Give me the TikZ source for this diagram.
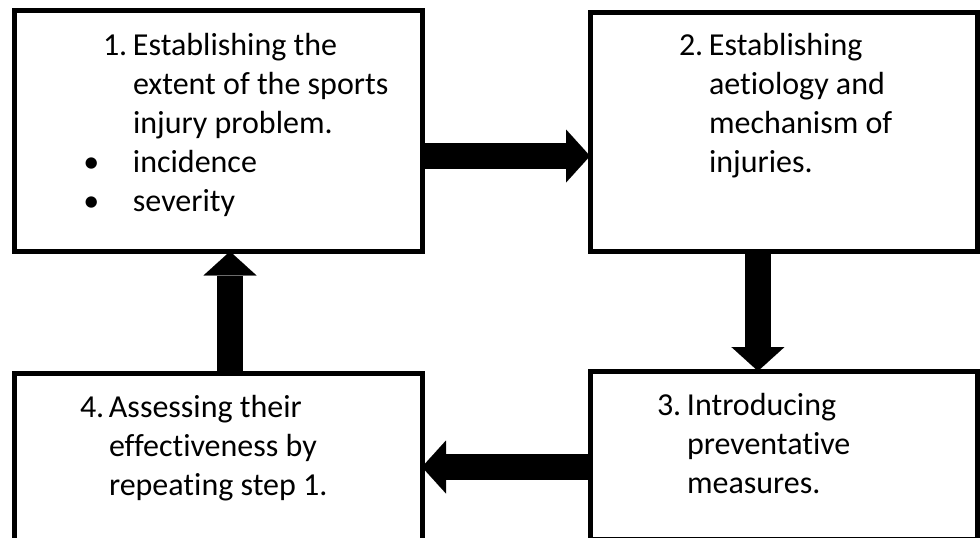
\documentclass[tikz,border=0pt]{standalone}
\usepackage{fontspec}
\setmainfont{Carlito}[Ligatures={NoCommon}]
\usetikzlibrary{arrows.meta}
\begin{document}
\begin{tikzpicture}[x=0.5pt,y=-0.5pt,
  box/.style={draw=black, line width=2.5pt, rectangle, inner sep=0pt, outer sep=0pt},
  txt/.style={anchor=base west, inner sep=0pt, outer sep=0pt, font=\fontsize{16pt}{19.5pt}\selectfont},
  blockarrow/.style={line width=13.4pt, -{Triangle[width=26.5pt,length=12pt,line width=0.01pt]}}]
\useasboundingbox (0,0) rectangle (980,537);
\clip (0,0) rectangle (980,537);
% boxes
\node[box, minimum width=203.75pt, minimum height=120.5pt] (b1) at (218.25,131) {};
\node[box, minimum width=193.75pt, minimum height=119.25pt] (b2) at (783.75,131.75) {};
\node[box, minimum width=193.75pt, minimum height=84pt] (b3) at (783.75,455) {};
\node[box, minimum width=203.75pt, minimum height=98.5pt] (b4) at (218.25,471.5) {};
% texts box 1
\node[txt] (t11) at (133,55) {\llap{\makebox[15pt][l]{1.}}Establishing the};
\node[txt] (t12) at (133,94) {extent of the sports};
\node[txt] (t13) at (133,133) {injury problem.};
\node[txt] (t14) at (133,172) {\llap{\makebox[24.75pt][l]{•}}incidence};
\node[txt] (t15) at (133,211) {\llap{\makebox[24.75pt][l]{•}}severity};
% texts box 2
\node[txt] (t21) at (709,55) {\llap{\makebox[15pt][l]{2.}}Establishing};
\node[txt] (t22) at (709,94) {aetiology and};
\node[txt] (t23) at (709,133) {mechanism of};
\node[txt] (t24) at (709,172) {injuries.};
% texts box 3
\node[txt] (t31) at (687,415) {\llap{\makebox[15pt][l]{3.}}Introducing};
\node[txt] (t32) at (687,454) {preventative};
\node[txt] (t33) at (687,493) {measures.};
% texts box 4
\node[txt] (t41) at (109,417) {\llap{\makebox[14.5pt][l]{4.}}Assessing their};
\node[txt] (t42) at (109,456) {effectiveness by};
\node[txt] (t43) at (109,495) {repeating step 1.};
% arrows
\coordinate (s12) at ([yshift=-12.5pt]b1.east);
\coordinate (s23) at ([xshift=-12.9pt]b2.south);
\coordinate (s34) at ([yshift=-6pt]b3.west);
\coordinate (s41) at ([xshift=5.875pt]b4.north);
\draw[blockarrow] (s12) -- (s12 -| b2.west);
\draw[blockarrow] (s23) -- (s23 |- b3.north);
\draw[blockarrow] (s34) -- (s34 -| b4.east);
\draw[blockarrow] (s41) -- (s41 |- b1.south);
\end{tikzpicture}
\end{document}
